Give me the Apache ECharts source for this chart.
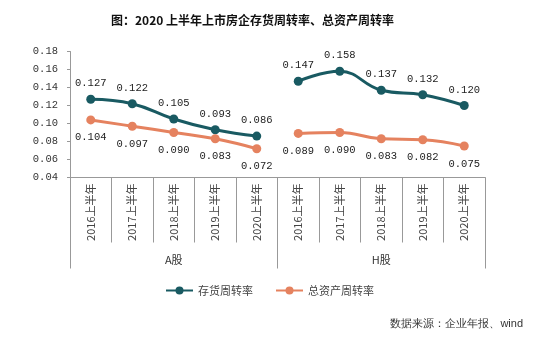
<!DOCTYPE html>
<html>
<head>
<meta charset="utf-8">
<script src="https://cdn.jsdelivr.net/npm/echarts@6/dist/echarts.min.js"></script>
<style>
html,body{margin:0;padding:0;background:#fff;}
#c{width:539px;height:343px;}
</style>
</head>
<body>
<div id="c"></div>
<script>
var titleText = '图：2020 上半年上市房企存货周转率、总资产周转率';
var categories = ['2016上半年','2017上半年','2018上半年','2019上半年','2020上半年','2016上半年','2017上半年','2018上半年','2019上半年','2020上半年'];
var groups = ['A股','H股'];
var seriesNames = ['存货周转率','总资产周转率'];
var inventoryA = [0.127,0.122,0.105,0.093,0.086];
var inventoryH = [0.147,0.158,0.137,0.132,0.120];
var assetA = [0.104,0.097,0.090,0.083,0.072];
var assetH = [0.089,0.090,0.083,0.082,0.075];
var sourceText = '数据来源：企业年报、wind';

var colors = ['#195a62','#e5825f'];
var monoFont = '"Liberation Mono", "Noto Sans CJK SC", monospace';
var cjkFont = '"Noto Sans CJK SC", sans-serif';
var blank = ['-','-','-','-','-'];

function mk(name, data, color, pos, dist){
  return {
    name: name, type: 'line', smooth: 0.45,
    data: data, symbol: 'circle', symbolSize: 9,
    lineStyle: {width: 3, color: color},
    itemStyle: {color: color},
    label: {show: true, position: pos, distance: dist, color: '#222',
      fontFamily: monoFont, fontSize: 10.5,
      formatter: function(p){ return (+p.value).toFixed(3); }},
    z: 3
  };
}

var chart = echarts.init(document.getElementById('c'));
chart.setOption({
  animation: false,
  title: {text: titleText, left: 106, top: 9,
    textStyle: {fontSize: 12, fontWeight: 'bold', color: '#111', fontFamily: cjkFont}},
  grid: {left: 70, right: 54, top: 51.5, bottom: 165.5},
  legend: {data: seriesNames, top: 280, left: 'center', itemWidth: 27, itemHeight: 10, itemGap: 22,
    textStyle: {fontSize: 11, color: '#444', fontFamily: cjkFont}},
  xAxis: [{
    type: 'category', data: categories, boundaryGap: true,
    axisLine: {lineStyle: {color: '#999', width: 1}},
    axisTick: {show: true, length: 65, lineStyle: {color: '#999'}},
    axisLabel: {rotate: 90, margin: 6, fontSize: 11, color: '#444', fontFamily: cjkFont, interval: 0}
  },{
    type: 'category', data: groups, boundaryGap: true, position: 'bottom',
    axisLine: {show: false},
    axisTick: {show: true, length: 91, lineStyle: {color: '#999'}},
    axisLabel: {margin: 77, fontSize: 11, color: '#333', fontFamily: cjkFont}
  }],
  yAxis: {
    type: 'value', min: 0.04, max: 0.18, interval: 0.02,
    splitLine: {show: false},
    axisLine: {show: true, lineStyle: {color: '#999'}},
    axisTick: {show: true, length: 3, lineStyle: {color: '#999'}},
    axisLabel: {margin: 12, fontSize: 10.5, color: '#333', fontFamily: monoFont,
      formatter: function(v){ return v.toFixed(2); }}
  },
  series: [
    mk(seriesNames[0], inventoryA.concat(blank), colors[0], 'top', 6),
    mk(seriesNames[0], blank.concat(inventoryH), colors[0], 'top', 6),
    mk(seriesNames[1], assetA.concat(blank), colors[1], 'bottom', 8),
    mk(seriesNames[1], blank.concat(assetH), colors[1], 'bottom', 8)
  ],
  graphic: [{type: 'text', right: 16, top: 318,
    style: {text: sourceText, fontSize: 11, fill: '#333', font: '11px "Noto Sans CJK SC"'}}]
});
</script>
</body>
</html>
